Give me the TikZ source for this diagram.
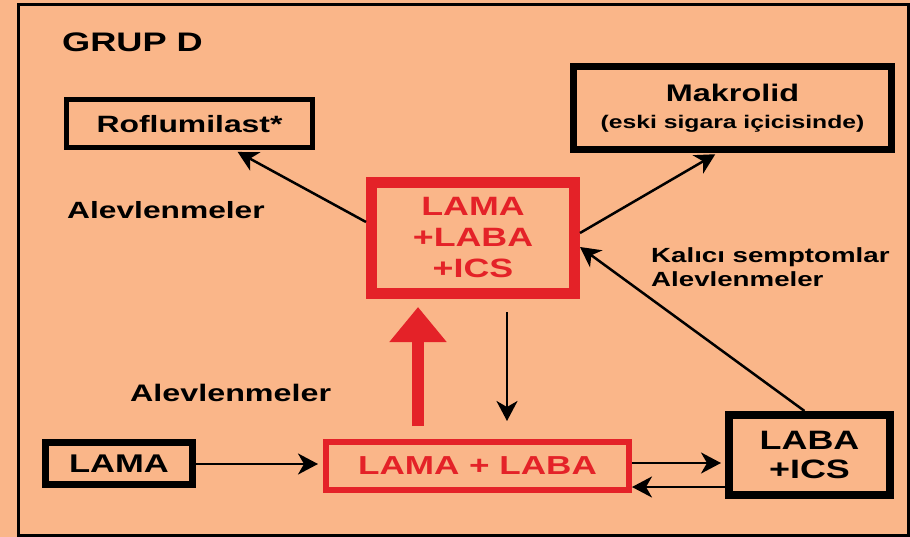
\documentclass[tikz,border=0pt]{standalone}
\usepackage{fontspec}
\setmainfont{Liberation Sans}[FakeStretch=1.35]
\usepackage{xcolor}
\usetikzlibrary{arrows.meta,positioning}
\definecolor{grpPeach}{RGB}{250,182,137}
\definecolor{grpRed}{RGB}{228,34,40}

\tikzset{
  fsize/.style 2 args={font=\fontsize{#1}{#2}\selectfont\bfseries},
  drugbox/.style={draw=black, inner sep=0pt, align=center},
  redbox/.style={draw=grpRed, text=grpRed, inner sep=0pt, align=center},
  note/.style={inner sep=0pt, anchor=base west},
  flow/.style={-{Stealth[length=20pt,width=21pt,inset=6pt]}, line width=2.5pt},
  bigflow/.style={-{Triangle[length=35pt,width=55pt]}, grpRed, line width=12pt}
}

\begin{document}
\begin{tikzpicture}[x=1pt,y=-1pt]
    \useasboundingbox (0,0) rectangle (910,537);
    % background and frame
    \fill[grpPeach] (0,0) rectangle (910,537);
    \draw[line width=3.5pt] (18.7,4.7) rectangle (908.5,535.5);

    % labels
    \node[note, fsize={26.8}{32}] (title) at (62,52) {GRUP D};
    \node[note, fsize={23.5}{28}] (flare1) at (67,219) {Alevlenmeler};
    \node[note, fsize={23.9}{28}] (flare2) at (130,401) {Alevlenmeler};
    \node[note, fsize={20.5}{24}] (persist) at (651,263) {Kalıcı semptomlar};
    \node[note, fsize={20.5}{24}] (flare3) at (651,287) {Alevlenmeler};

    % boxes
    \node[drugbox, line width=5pt, minimum width=246, minimum height=48, fsize={23.6}{28}]
        (rofl) at (189.5,124) {Roflumilast*};
    \node[drugbox, line width=7.5pt, minimum width=318, minimum height=83, fsize={18.3}{27}]
        (makro) at (732.5,108) {{\fontsize{24}{27}\selectfont Makrolid}\\(eski sigara içicisinde)};
    \node[redbox, line width=11pt, minimum width=203, minimum height=111, fsize={26.5}{31}]
        (combo) at (473,238) {LAMA\\+LABA\\+ICS};
    \node[redbox, line width=6pt, minimum width=303, minimum height=48, fsize={26}{31}]
        (dual) at (477.5,466) {LAMA + LABA};
    \node[drugbox, line width=7pt, minimum width=147, minimum height=42, fsize={25.6}{31}]
        (lama) at (119,463.5) {LAMA};
    \node[drugbox, line width=8pt, minimum width=161, minimum height=80, fsize={26.6}{29}]
        (labaics) at (809.5,455) {LABA\\+ICS};

    % arrows
    \draw[flow, shorten >=3pt] ([yshift=16pt]combo.west) -- ([xshift=45.5pt]rofl.south);
    \draw[flow, shorten >=2pt] ([yshift=5pt]combo.east) -- ([xshift=-15.5pt]makro.south);
    \draw[flow] ([xshift=-5pt]labaics.north) -- ([yshift=-9pt]combo.east);
    \draw[bigflow, shorten <=13pt, shorten >=8pt] ([xshift=-59.5pt]dual.north) -- ([xshift=-55pt]combo.south);
    \draw[flow, shorten <=13pt, shorten >=18pt] ([xshift=34pt]combo.south) -- ([xshift=29.5pt]dual.north);
    \draw[flow, shorten >=5pt] ([yshift=-0.5pt]lama.east) -- ([yshift=-0.5pt]lama.east -| dual.west);
    \draw[flow, shorten >=4pt] ([yshift=3pt]dual.east) -- ([yshift=3pt]dual.east -| labaics.west);
    \draw[flow] ([yshift=-21pt]dual.east -| labaics.west) -- ([yshift=-21pt]dual.east);
\end{tikzpicture}
\end{document}
